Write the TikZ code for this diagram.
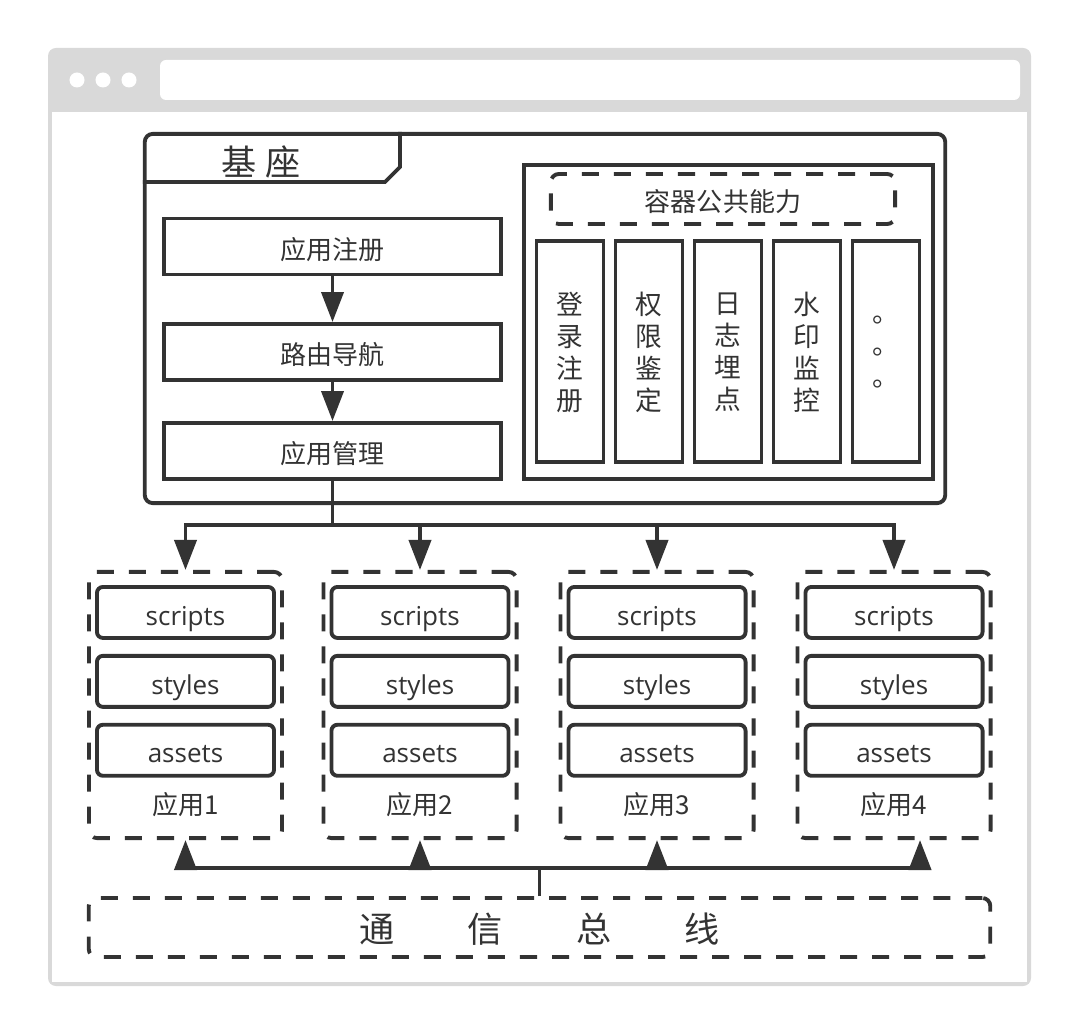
\documentclass[tikz,border=0pt]{standalone}
\usepackage{fontspec}
\setmainfont{Noto Sans CJK SC}
\newfontfamily\latina{Open Sans}
\usetikzlibrary{arrows.meta,positioning}
\definecolor{linea}{HTML}{333333}
\definecolor{marco}{HTML}{D9D9D9}
\tikzset{
  caja/.style={draw=linea, line width=1.1pt, inner sep=0pt, text=linea,
    font=\fontsize{7.4pt}{9pt}\selectfont},
  unalinea/.style={text height=7.2pt, text depth=0pt},
  discontinua/.style={caja, dash pattern=on 0.17cm off 0.15cm, rounded corners=0.08cm},
  columna/.style={caja, minimum width=0.67cm, minimum height=2.21cm, align=center,
    text depth=-2.2pt, font=\fontsize{7.6pt}{9.1pt}\selectfont},
  modulo/.style={caja, unalinea, rounded corners=0.06cm, minimum width=1.77cm, minimum height=0.51cm,
    font=\latina\fontsize{7.4pt}{9pt}\selectfont},
  contenedor/.style={discontinua, minimum width=1.93cm, minimum height=2.66cm},
  etiqueta/.style={text=linea, inner sep=0pt, font=\fontsize{7.4pt}{9pt}\selectfont},
  conector/.style={draw=linea, line width=1.1pt},
  flecha/.style={conector, -{Triangle[length=0.3cm,width=0.22cm]}}
}
\begin{document}
\begin{tikzpicture}[x=0.01cm,y=-0.01cm]
% Fondo
\fill[white] (0,0) rectangle (1080,1034);
\useasboundingbox (0,0) rectangle (1080,1034);

% Marco del navegador
\fill[marco, rounded corners=0.08cm] (48,48) rectangle (1031,986);
\fill[white] (52,112) rectangle (1027,982);
\fill[white, rounded corners=0.06cm] (160,60) rectangle (1020,100);
\fill[white] (77,80) circle (0.075cm);
\fill[white] (103,80) circle (0.075cm);
\fill[white] (129,80) circle (0.075cm);

% Base
\node[caja, rounded corners=0.08cm, minimum width=8.00cm, minimum height=3.69cm] (base) at (545,318.5) {};
\coordinate (pestana) at (400,182);
\draw[conector] (base.west |- pestana) -- ([xshift=-0.15cm]pestana) -- ([yshift=0.15cm]pestana) -- (pestana |- base.north);
\node[etiqueta, font=\fontsize{10pt}{12pt}\selectfont] (tbase) at (261,162) {基\hspace{0.09cm}座};

% Flujo del base
\node[caja, unalinea, minimum width=3.36cm, minimum height=0.56cm] (reg) at (332.5,246.5) {应用注册};
\node[caja, unalinea, minimum width=3.36cm, minimum height=0.56cm] (nav) at (332.5,352) {路由导航};
\node[caja, unalinea, minimum width=3.36cm, minimum height=0.56cm] (mgr) at (332.5,451) {应用管理};
\draw[flecha] (reg) -- (nav);
\draw[flecha] (nav) -- (mgr);

% Capacidades del contenedor
\node[caja, minimum width=4.09cm, minimum height=3.14cm] (cap) at (728.5,322) {};
\node[discontinua, unalinea, minimum width=3.44cm, minimum height=0.50cm] (comun) at (723,199) {容器公共能力};
\node[columna] (c1) at (570,351.5) {登\\录\\注\\册};
\node[columna] (c2) at (649,351.5) {权\\限\\鉴\\定};
\node[columna] (c3) at (728,351.5) {日\\志\\埋\\点};
\node[columna] (c4) at (807,351.5) {水\\印\\监\\控};
\node[columna] (c5) at (886,351.5) {。\\。\\。};

% Aplicaciones
\node[contenedor] (app1) at (185.5,705) {};
\node[contenedor] (app2) at (420,705) {};
\node[contenedor] (app3) at (657,705) {};
\node[contenedor] (app4) at (894,705) {};

\node[modulo, below=0.15cm of app1.north] (scr1) {scripts};
\node[modulo, below=0.14cm of scr1] (sty1) {styles};
\node[modulo, below=0.14cm of sty1] (ast1) {assets};
\node[etiqueta] (lab1) at ([yshift=0.35cm]app1.south) {应用1};

\node[modulo, below=0.15cm of app2.north] (scr2) {scripts};
\node[modulo, below=0.14cm of scr2] (sty2) {styles};
\node[modulo, below=0.14cm of sty2] (ast2) {assets};
\node[etiqueta] (lab2) at ([yshift=0.35cm]app2.south) {应用2};

\node[modulo, below=0.15cm of app3.north] (scr3) {scripts};
\node[modulo, below=0.14cm of scr3] (sty3) {styles};
\node[modulo, below=0.14cm of sty3] (ast3) {assets};
\node[etiqueta] (lab3) at ([yshift=0.35cm]app3.south) {应用3};

\node[modulo, below=0.15cm of app4.north] (scr4) {scripts};
\node[modulo, below=0.14cm of scr4] (sty4) {styles};
\node[modulo, below=0.14cm of sty4] (ast4) {assets};
\node[etiqueta] (lab4) at ([yshift=0.35cm]app4.south) {应用4};

% Bus de comunicacion
\node[discontinua, unalinea, text height=8.5pt, minimum width=9.01cm, minimum height=0.59cm, font=\fontsize{10pt}{12pt}\selectfont] (bus) at (539.5,927.5)
  {通\hspace{0.73cm}信\hspace{0.73cm}总\hspace{0.73cm}线};

% Conexiones superiores
\coordinate (arriba) at (332.5,525);
\draw[conector] (mgr.south) -- (arriba);
\draw[conector, line cap=rect] (arriba -| app1.north) -- (arriba -| app4.north);
\draw[flecha] (arriba -| app1.north) -- (app1.north);
\draw[flecha] (arriba -| app2.north) -- (app2.north);
\draw[flecha] (arriba -| app3.north) -- (app3.north);
\draw[flecha] (arriba -| app4.north) -- (app4.north);

% Conexiones inferiores
\coordinate (abajo) at (539.5,868);
\coordinate (a4) at ([xshift=0.26cm]app4.south);
\draw[conector] (bus.north) -- (abajo);
\draw[conector] (abajo -| app1.south) -- (abajo -| a4);
\draw[flecha] (abajo -| app1.south) -- (app1.south);
\draw[flecha] (abajo -| app2.south) -- (app2.south);
\draw[flecha] (abajo -| app3.south) -- (app3.south);
\draw[flecha] (abajo -| a4) -- (a4);
\end{tikzpicture}
\end{document}
